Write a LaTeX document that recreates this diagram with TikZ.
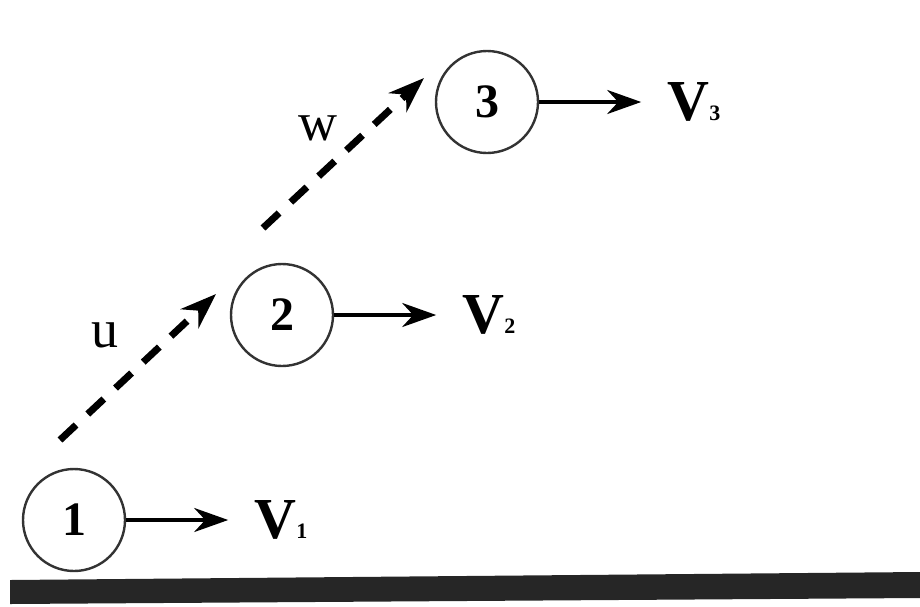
\documentclass[tikz,border=0pt]{standalone}
\usepackage{fontspec}
\setmainfont{Liberation Serif}
\usetikzlibrary{arrows.meta,positioning}

\begin{document}
\begin{tikzpicture}[
  x=0.5pt, y=-0.5pt,
  node distance=64pt,
  body/.style={draw=black!80, circle, line width=1.2pt, minimum size=51pt,
               inner sep=0pt, font=\fontsize{24}{24}\selectfont\bfseries},
  vel/.style={inner sep=0pt, font=\fontsize{29}{29}\selectfont\bfseries},
  arr/.style={draw, line width=2pt, -{Stealth[length=17pt, width=12pt]},
              shorten >=13pt},
  darr/.style={draw, line width=3.5pt, dash pattern=on 11pt off 8pt,
               -{Stealth[length=18pt, width=13pt]}},
  lbl/.style={font=\fontsize{27}{27}\selectfont}
]
\useasboundingbox (0,0) rectangle (920,606);

\node[body] (n1) at (74,520) {1};
\node[body] (n2) at (282,315) {2};
\node[body] (n3) at (487,102) {3};

\node[vel, right=of n1] (v1) {V{\fontsize{11}{11}\selectfont 1}};
\node[vel, right=of n2] (v2) {V{\fontsize{11}{11}\selectfont 2}};
\node[vel, right=of n3] (v3) {V{\fontsize{11}{11}\selectfont 3}};

\draw[arr] (n1) -- (v1);
\draw[arr] (n2) -- (v2);
\draw[arr] (n3) -- (v3);

% displacement vectors
\coordinate (u0) at (60,440);
\coordinate (u1) at (216,294);
\coordinate (w0) at (263,228);
\coordinate (w1) at (424,78);
\draw[darr] (u0) -- (u1);
\draw[darr] (w0) -- (w1);
\node[lbl] (lu) at (105,335) {u};
\node[lbl] (lw) at (318,128) {w};

% ground
\fill[black!85] (10,580) -- (920,572) -- (920,598) -- (10,604) -- cycle;
\end{tikzpicture}
\end{document}
